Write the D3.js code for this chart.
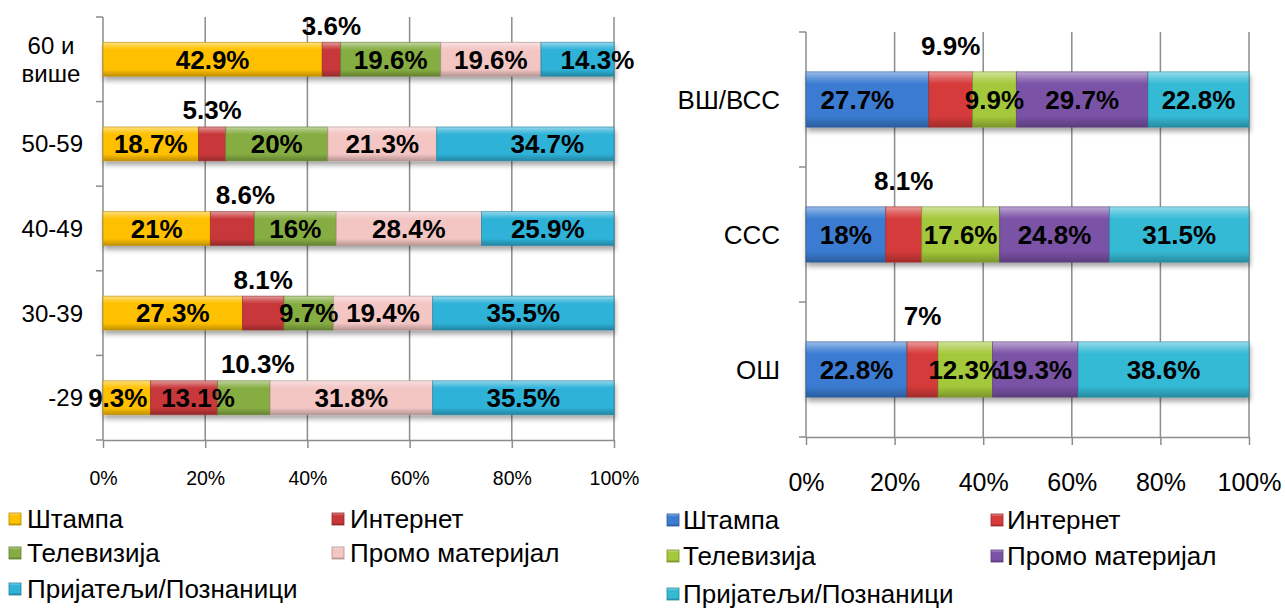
<!DOCTYPE html>
<html>
<head>
<meta charset="utf-8">
<script src="https://cdn.jsdelivr.net/npm/d3@7"></script>
<style>
  html, body { margin: 0; padding: 0; background: #fff; }
  svg { display: block; font-family: "Liberation Sans", Arial, sans-serif; }
</style>
</head>
<body>
<svg id="chart" width="1285" height="611"></svg>
<script>
// Information sources by age group (left) and by education level (right), in percent
const seriesNames = ["Штампа", "Интернет", "Телевизија", "Промо материјал", "Пријатељи/Познаници"];

const ageCategories = ["60 и више", "50-59", "40-49", "30-39", "-29"];
const ageShtampa  = [42.9, 18.7, 21, 27.3, 9.3];
const ageInternet = [3.6, 5.3, 8.6, 8.1, 13.1];
const ageTV       = [19.6, 20, 16, 9.7, 10.3];
const agePromo    = [19.6, 21.3, 28.4, 19.4, 31.8];
const ageFriends  = [14.3, 34.7, 25.9, 35.5, 35.5];
// series whose label sits above the bar, per age group
const ageLabelAbove = ["Интернет", "Интернет", "Интернет", "Интернет", "Телевизија"];

const eduCategories = ["ВШ/ВСС", "ССС", "ОШ"];
const eduShtampa  = [27.7, 18, 22.8];
const eduInternet = [9.9, 8.1, 7];
const eduTV       = [9.9, 17.6, 12.3];
const eduPromo    = [29.7, 24.8, 19.3];
const eduFriends  = [22.8, 31.5, 38.6];
const eduLabelAbove = ["Интернет", "Интернет", "Интернет"];

const tickLabels = ["0%", "20%", "40%", "60%", "80%", "100%"];
const tickValues = [0, 0.2, 0.4, 0.6, 0.8, 1];

// small horizontal nudges of individual value labels (px)
const labelNudge = {
  "60 и више|Пријатељи/Познаници": 20,
  "50-59|Пријатељи/Познаници": 22,
  "40-49|Интернет": 13,
  "-29|Штампа": -9,
  "-29|Интернет": 14,
  "-29|Телевизија": 14,
  "ВШ/ВСС|Штампа": -10
};

const svg = d3.select("#chart");
const defs = svg.append("defs");

const shadow = defs.append("filter").attr("id", "barShadow")
  .attr("x", "-5%").attr("y", "-30%").attr("width", "110%").attr("height", "180%");
shadow.append("feDropShadow").attr("dx", 1).attr("dy", 4).attr("stdDeviation", 2.5)
  .attr("flood-color", "#000").attr("flood-opacity", 0.35);

function makeGradient(id, base) {
  const c = d3.color(base);
  const g = defs.append("linearGradient").attr("id", id)
    .attr("x1", 0).attr("y1", 0).attr("x2", 0).attr("y2", 1);
  g.append("stop").attr("offset", "0%").attr("stop-color", d3.interpolateRgb(c, "#fff")(0.5));
  g.append("stop").attr("offset", "12%").attr("stop-color", d3.interpolateRgb(c, "#fff")(0.2));
  g.append("stop").attr("offset", "22%").attr("stop-color", c.formatHex());
  g.append("stop").attr("offset", "80%").attr("stop-color", c.formatHex());
  g.append("stop").attr("offset", "100%").attr("stop-color", c.darker(0.8).formatHex());
  return "url(#" + id + ")";
}

function drawPanel(cfg) {
  const { key, categories, series, colors, labelAbove, x0, x1, y0, y1,
          yFont, xFont, xLabelY, legend } = cfg;

  const rows = categories.map((c, i) => {
    const r = { category: c };
    seriesNames.forEach((s, j) => { r[s] = series[j][i]; });
    return r;
  });
  const stacked = d3.stack().keys(seriesNames).offset(d3.stackOffsetExpand)(rows);

  const x = d3.scaleLinear().domain([0, 1]).range([x0, x1]);
  const y = d3.scaleBand().domain(categories).range([y0, y1])
    .paddingInner(cfg.pad).paddingOuter(cfg.pad / 2);

  const fills = colors.map((col, j) => makeGradient(key + "g" + j, col));

  const g = svg.append("g");

  // vertical gridlines
  g.append("g").selectAll("line").data(tickValues).join("line")
    .attr("x1", d => x(d)).attr("x2", d => x(d))
    .attr("y1", y0).attr("y2", y1)
    .attr("stroke", "#8c8c8c").attr("stroke-width", 1.5);

  // category axis with tick marks on band boundaries
  const bounds = categories.map(c => y(c) - y.step() * y.paddingInner() / 2);
  bounds.push(y1);
  bounds[0] = y0;
  g.append("g").selectAll("line").data(bounds).join("line")
    .attr("x1", x0 - 7).attr("x2", x0)
    .attr("y1", d => d).attr("y2", d => d)
    .attr("stroke", "#8c8c8c").attr("stroke-width", 1.5);

  // value axis
  const xAxis = d3.axisBottom(x).tickValues(tickValues)
    .tickFormat((d, i) => tickLabels[i]).tickSize(8).tickSizeOuter(0);
  const ax = g.append("g").attr("transform", `translate(0,${y1})`).call(xAxis);
  ax.select(".domain").attr("stroke", "#8c8c8c").attr("stroke-width", 1.5);
  ax.selectAll(".tick line").attr("stroke", "#8c8c8c").attr("stroke-width", 1.5);
  ax.selectAll(".tick text").attr("y", xLabelY - y1).attr("dy", "0.35em")
    .attr("font-size", xFont).attr("fill", "#000")
    .attr("font-family", "Liberation Sans, Arial, sans-serif");

  // category labels
  g.append("g").selectAll("text").data(categories).join("text")
    .attr("x", x0 - cfg.yGap)
    .attr("y", d => y(d) + y.bandwidth() / 2)
    .attr("text-anchor", "end")
    .attr("font-size", yFont)
    .each(function (d) {
      const parts = d === "60 и више" ? ["60 и", "више"] : [d];
      const t = d3.select(this);
      const lh = yFont * 1.17;
      parts.forEach((p, i) => {
        t.append("tspan").attr("x", parts.length > 1 ? x0 - 52 : x0 - cfg.yGap)
          .attr("text-anchor", parts.length > 1 ? "middle" : "end")
          .attr("dy", i === 0 ? ((-(parts.length - 1) * lh / 2) / yFont + 0.35) + "em" : lh + "px")
          .text(p);
      });
    });

  // stacked bar segments
  const barG = g.append("g").attr("filter", "url(#barShadow)");
  stacked.forEach((layer, j) => {
    barG.append("g").selectAll("rect").data(layer).join("rect")
      .attr("x", d => x(d[0]))
      .attr("y", d => y(d.data.category))
      .attr("width", d => x(d[1]) - x(d[0]))
      .attr("height", y.bandwidth())
      .attr("fill", fills[j])
      .attr("stroke", d3.color(colors[j]).darker(0.9).formatHex())
      .attr("stroke-opacity", 0.6)
      .attr("stroke-width", 1);
  });

  // value labels
  const labelG = g.append("g");
  stacked.forEach((layer, j) => {
    const sName = seriesNames[j];
    layer.forEach((d, i) => {
      const cat = d.data.category;
      const above = labelAbove[i] === sName;
      const nudge = labelNudge[cat + "|" + sName] || 0;
      const cx = (x(d[0]) + x(d[1])) / 2 + nudge;
      const cy = above ? y(cat) - cfg.aboveGap : y(cat) + y.bandwidth() / 2;
      labelG.append("text")
        .attr("x", cx).attr("y", cy).attr("dy", "0.36em")
        .attr("text-anchor", "middle")
        .attr("font-size", cfg.valueFont)
        .attr("font-weight", "bold")
        .attr("fill", "#000")
        .text(d.data[sName] + "%");
    });
  });

  // legend
  const lg = g.append("g");
  seriesNames.forEach((s, j) => {
    const col = j % 2, row = Math.floor(j / 2);
    const lx = legend.x[col], ly = legend.y[row];
    lg.append("rect").attr("x", lx).attr("y", ly - 6).attr("width", 12).attr("height", 12)
      .attr("fill", fills[j])
      .attr("stroke", d3.color(colors[j]).darker(0.9).formatHex()).attr("stroke-width", 0.8);
    lg.append("text").attr("x", lx + legend.textGap).attr("y", ly).attr("dy", "0.35em")
      .attr("font-size", legend.font).attr("fill", "#000").text(s);
  });
}

drawPanel({
  key: "age",
  categories: ageCategories,
  series: [ageShtampa, ageInternet, ageTV, agePromo, ageFriends],
  colors: ["#FFC000", "#C8383A", "#86AD43", "#F3C6C4", "#2FB2D8"],
  labelAbove: ageLabelAbove,
  x0: 103, x1: 614, y0: 17, y1: 440, pad: 0.6,
  yFont: 24, yGap: 20, xFont: 19.5, xLabelY: 478, valueFont: 26, aboveGap: 17,
  legend: { x: [9, 332], y: [519, 553, 589], textGap: 18, font: 26 }
});

drawPanel({
  key: "edu",
  categories: eduCategories,
  series: [eduShtampa, eduInternet, eduTV, eduPromo, eduFriends],
  colors: ["#3A7CD2", "#D63A3A", "#A4C83A", "#7A52A6", "#35BAD6"],
  labelAbove: eduLabelAbove,
  x0: 806, x1: 1249, y0: 32, y1: 437, pad: 0.59,
  yFont: 26, yGap: 26, xFont: 25, xLabelY: 482, valueFont: 26, aboveGap: 26,
  legend: { x: [667, 991], y: [520, 556, 594], textGap: 16, font: 26 }
});
</script>
</body>
</html>
